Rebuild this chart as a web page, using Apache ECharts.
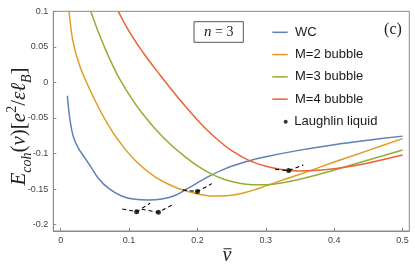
<!DOCTYPE html>
<html>
<head>
<meta charset="utf-8">
<script src="https://cdn.jsdelivr.net/npm/echarts@6/dist/echarts.min.js"></script>
<style>html,body{margin:0;padding:0;background:#fff}#c{width:415px;height:268px}</style>
</head>
<body>
<div id="c"></div>
<script>
// ---- data ----
const xTicks = [0, 0.1, 0.2, 0.3, 0.4, 0.5];
const yTicks = [-0.2, -0.15, -0.1, -0.05, 0, 0.05, 0.1];

const wcNu = [0.0097, 0.0136, 0.0184, 0.0258, 0.0356, 0.0453, 0.055, 0.0697, 0.089, 0.1087, 0.128, 0.148, 0.167, 0.1867, 0.21, 0.24, 0.276, 0.30, 0.35, 0.40, 0.45, 0.50];
const wcE  = [-0.0187, -0.0525, -0.076, -0.0924, -0.1065, -0.1206, -0.1346, -0.1487, -0.1596, -0.1643, -0.1652, -0.1638, -0.159, -0.1487, -0.1355, -0.1215, -0.110, -0.1044, -0.0952, -0.0875, -0.0812, -0.0755];

const m2Nu = [0.0122, 0.0184, 0.0282, 0.0429, 0.0575, 0.0711, 0.084, 0.109, 0.138, 0.165, 0.18, 0.195, 0.21, 0.225, 0.24, 0.255, 0.27, 0.285, 0.30, 0.33, 0.36, 0.40, 0.45, 0.50];
const m2E  = [0.1, 0.0555, 0.0225, -0.0106, -0.0391, -0.0622, -0.0809, -0.1097, -0.1329, -0.1464, -0.1515, -0.1555, -0.1585, -0.1598, -0.1595, -0.1578, -0.1548, -0.1505, -0.1455, -0.1355, -0.1258, -0.112, -0.0955, -0.079];

const m3Nu = [0.0439, 0.0575, 0.0721, 0.0868, 0.106, 0.121, 0.138, 0.16, 0.18, 0.20, 0.22, 0.24, 0.26, 0.28, 0.30, 0.32, 0.34, 0.36, 0.39, 0.42, 0.45, 0.50];
const m3E  = [0.1, 0.0648, 0.032, 0.0038, -0.026, -0.0455, -0.065, -0.0866, -0.103, -0.1175, -0.1285, -0.1365, -0.1415, -0.1438, -0.1438, -0.1418, -0.1383, -0.1338, -0.126, -0.1175, -0.109, -0.095];

const m4Nu = [0.0843, 0.1014, 0.121, 0.1453, 0.1697, 0.194, 0.21, 0.23, 0.25, 0.276, 0.30, 0.33, 0.35, 0.37, 0.39, 0.42, 0.45, 0.48, 0.50];
const m4E  = [0.1, 0.0696, 0.0414, 0.0105, -0.019, -0.0465, -0.063, -0.081, -0.096, -0.110, -0.1178, -0.1234, -0.1245, -0.124, -0.1225, -0.1186, -0.1132, -0.1067, -0.102];

const laughNu = [1/9, 1/7, 1/5, 1/3];
const laughE  = [-0.1817, -0.1825, -0.1535, -0.124];
const cuspLeftNu  = [0.0901, 0.1185, 0.1785, 0.3135];
const cuspLeftE   = [-0.1779, -0.1783, -0.1511, -0.122];
const cuspRightNu = [0.1307, 0.1633, 0.221, 0.355];
const cuspRightE  = [-0.1699, -0.1723, -0.1423, -0.116];

const seriesNames = ['WC', 'M=2 bubble', 'M=3 bubble', 'M=4 bubble'];
const laughName = 'Laughlin liquid';
const colors = ['#5E81B5', '#E19C24', '#8FB032', '#EB6235'];

// ---- build ----
const zip = (a, b) => a.map((v, i) => [v, b[i]]);
const curves = [[wcNu, wcE], [m2Nu, m2E], [m3Nu, m3E], [m4Nu, m4E]];
const series = curves.map((c, i) => ({
  name: seriesNames[i], type: 'line', data: zip(c[0], c[1]),
  showSymbol: false, smooth: 0.4,
  lineStyle: { color: colors[i], width: 1.5 }, itemStyle: { color: colors[i] },
  z: 2, silent: true
}));
laughNu.forEach((nu, i) => {
  series.push({
    type: 'line', showSymbol: false, silent: true, z: 3,
    data: [[cuspLeftNu[i], cuspLeftE[i]], [nu, laughE[i]], [cuspRightNu[i], cuspRightE[i]]],
    lineStyle: { color: '#000', width: 1.1, type: [4, 3] }
  });
});
series.push({
  name: laughName, type: 'scatter', data: zip(laughNu, laughE),
  symbolSize: 5, itemStyle: { color: '#000' }, z: 4, silent: true
});

const chart = echarts.init(document.getElementById('c'), null, { renderer: 'canvas' });
const fmt = v => String(+(+v).toFixed(2));
chart.setOption({
  animation: false,
  color: colors,
  grid: { left: 53.3, right: 5.7, top: 11.3, bottom: 37, containLabel: false, outerBoundsMode: 'none',
          show: true, borderColor: '#8a8a8a', borderWidth: 1, backgroundColor: 'transparent' },
  xAxis: {
    type: 'value', min: -0.0108, max: 0.5098,
    axisLine: { show: true, onZero: false, lineStyle: { color: '#8a8a8a', width: 1 } },
    axisTick: { show: true, inside: true, length: 3, customValues: xTicks, lineStyle: { color: '#8a8a8a' } },
    axisLabel: { customValues: xTicks, formatter: fmt, margin: 5, fontSize: 9, color: '#444', fontFamily: 'Liberation Sans' },
    splitLine: { show: false }
  },
  yAxis: {
    type: 'value', min: -0.2089, max: 0.1,
    axisLine: { show: true, onZero: false, lineStyle: { color: '#8a8a8a', width: 1 } },
    axisTick: { show: true, inside: true, length: 3, customValues: yTicks, lineStyle: { color: '#8a8a8a' } },
    axisLabel: { customValues: yTicks, formatter: fmt, margin: 5, fontSize: 9, color: '#444', fontFamily: 'Liberation Sans' },
    splitLine: { show: false }
  },
  legend: [
    { data: seriesNames.map(n => ({ name: n, icon: 'rect' })), orient: 'vertical', left: 272.3, top: 25.8, padding: 0,
      itemWidth: 15.4, itemHeight: 1.5, itemGap: 9.3, selectedMode: false,
      textStyle: { fontSize: 13, color: '#1a1a1a', fontFamily: 'Liberation Sans', padding: [0, 0, 0, 2.3] } },
    { data: [{ name: laughName, icon: 'circle' }], orient: 'vertical', left: 283.7, top: 115.2, padding: 0,
      itemWidth: 4, itemHeight: 4, selectedMode: false,
      textStyle: { fontSize: 13, color: '#1a1a1a', fontFamily: 'Liberation Sans', padding: [0, 0, 0, 1.6] } }
  ],
  graphic: [
    { type: 'rect', shape: { x: 194, y: 21.7, width: 49.3, height: 20.6 }, style: { fill: '#fff', stroke: '#555', lineWidth: 1 }, z: 10 },
    { type: 'text', x: 218.7, y: 32.3, z: 11, style: {
        text: '{i|n} = 3', align: 'center', verticalAlign: 'middle', fill: '#222',
        font: '14px "Liberation Serif"',
        rich: { i: { fontStyle: 'italic', fontSize: 15, fontFamily: 'Liberation Serif' } } } },
    { type: 'text', x: 393, y: 29.5, z: 11, style: {
        text: '(c)', align: 'center', verticalAlign: 'middle', fill: '#222', font: '16px "Liberation Serif"' } },
    { type: 'text', x: 227, y: 256, z: 11, style: {
        text: 'ν', align: 'center', verticalAlign: 'middle', fill: '#222', font: 'italic 20px "Liberation Serif"' } },
    { type: 'line', shape: { x1: 223.5, y1: 248.8, x2: 231.5, y2: 248.8 }, style: { stroke: '#222', lineWidth: 1 }, z: 11 },
    { type: 'text', x: 19.5, y: 126.5, rotation: Math.PI / 2, z: 11, style: {
        text: '{i|E}{s|coh}{r|(}{i|ν}{r|)[}{i|e}{p|2}{r|/}{i|εℓ}{s|B}{r|]}',
        align: 'center', verticalAlign: 'middle', fill: '#222',
        rich: {
          i: { fontStyle: 'italic', fontSize: 21, fontFamily: 'Liberation Serif', lineHeight: 29, verticalAlign: 'middle' },
          r: { fontSize: 21, fontFamily: 'Liberation Serif', lineHeight: 29, verticalAlign: 'middle' },
          s: { fontStyle: 'italic', fontSize: 14, fontFamily: 'Liberation Serif', lineHeight: 14, verticalAlign: 'bottom' },
          p: { fontSize: 14, fontFamily: 'Liberation Serif', lineHeight: 14, verticalAlign: 'top' }
        } } }
  ],
  series: series
});
</script>
</body>
</html>
